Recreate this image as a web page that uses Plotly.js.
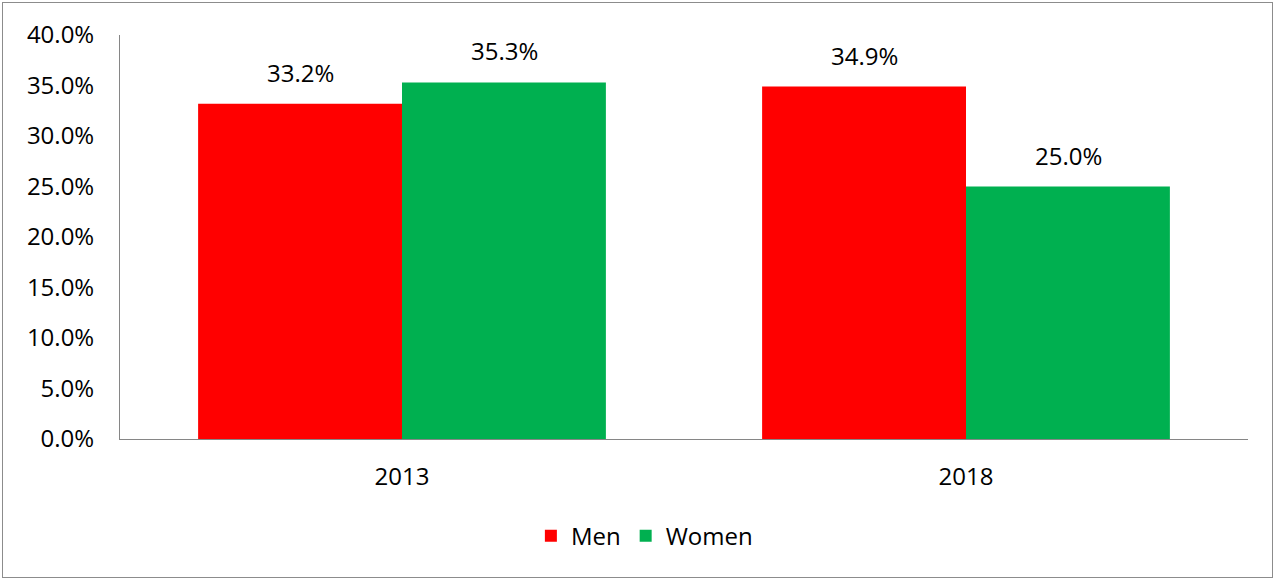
<!DOCTYPE html>
<html>
<head>
<meta charset="utf-8">
<script src="https://cdn.plot.ly/plotly-3.0.1.min.js"></script>
<style>
  html, body { margin: 0; padding: 0; background: #fff; }
  #frame { position: absolute; left: 2px; top: 2px; width: 1269px; height: 574px; border: 1px solid #8c8c8c; pointer-events: none; z-index: 5; }
  #chart { position: absolute; left: 0; top: 0; width: 1276px; height: 579px; }
</style>
</head>
<body>
<div id="chart"></div>
<div id="frame"></div>
<script>
const years = ['2013', '2018'];
const menValues = [0.332, 0.349];
const womenValues = [0.353, 0.250];
const yTickValues = [0, 0.05, 0.10, 0.15, 0.20, 0.25, 0.30, 0.35, 0.40];

const font = { family: 'Open Sans, Liberation Sans, sans-serif', size: 24, color: '#000' };
const pct = v => (v * 100).toFixed(1) + '%';

const traces = [
  { type: 'bar', name: 'Men', x: years, y: menValues, marker: { color: '#FF0000' }, hoverinfo: 'skip' },
  { type: 'bar', name: 'Women', x: years, y: womenValues, marker: { color: '#00B050' }, hoverinfo: 'skip' }
];

const annotations = [];
years.forEach((yr, i) => {
  annotations.push({ x: i, y: menValues[i], xref: 'x', yref: 'y', text: pct(menValues[i]), showarrow: false,
    xanchor: 'center', yanchor: 'bottom', xshift: -102, yshift: 13, font: font });
  annotations.push({ x: i, y: womenValues[i], xref: 'x', yref: 'y', text: pct(womenValues[i]), showarrow: false,
    xanchor: 'center', yanchor: 'bottom', xshift: 102, yshift: 13, font: font });
});

const layout = {
  width: 1276, height: 579,
  margin: { l: 120, r: 28, t: 35, b: 140, autoexpand: false },
  paper_bgcolor: '#fff', plot_bgcolor: '#fff',
  font: font,
  barmode: 'group', bargap: 0.277, bargroupgap: 0,
  showlegend: true,
  legend: { orientation: 'h', xref: 'container', yref: 'container', x: 0.505, xanchor: 'center', y: 0.074, yanchor: 'middle',
    font: font, itemwidth: 30, traceorder: 'normal' },
  annotations: annotations,
  xaxis: {
    type: 'category', categoryarray: years, range: [-0.5, years.length - 0.5], showline: true, linecolor: '#868686', linewidth: 1,
    ticks: '', showgrid: false, tickfont: font, ticklabelstandoff: 16
  },
  yaxis: {
    range: [0, 0.4], tickvals: yTickValues, tickformat: '.1%',
    showline: true, linecolor: '#868686', linewidth: 1,
    ticks: '', showgrid: false, zeroline: false, tickfont: font, ticklabelstandoff: 20
  }
};

Plotly.newPlot('chart', traces, layout, { staticPlot: true });
</script>
</body>
</html>
